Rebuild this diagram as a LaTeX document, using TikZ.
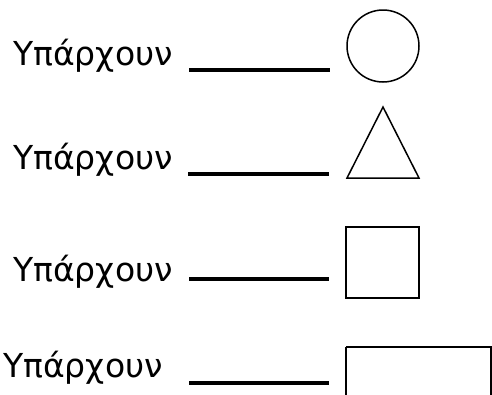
\documentclass[tikz,border=0pt]{standalone}
\usepackage{fontspec}
\setmainfont{DejaVu Sans}
\begin{document}
\begin{tikzpicture}[x=1pt,y=-1pt,
  lbl/.style={anchor=base west,inner sep=0pt,font=\fontsize{33}{38}\selectfont},
  blank/.style={line width=3.5pt},
  shp/.style={line width=1.5pt}]
\useasboundingbox (0,0) rectangle (492,394);
\node[lbl] (t1) at (13,65) {Υπάρχουν};
\node[lbl] (t2) at (13,169) {Υπάρχουν};
\node[lbl] (t3) at (13,281) {Υπάρχουν};
\node[lbl] (t4) at (3,377) {Υπάρχουν};
\draw[blank] (189,70) -- (330,70);
\draw[blank] (188,174) -- (329,174);
\draw[blank] (189,279) -- (329,279);
\draw[blank] (189,383) -- (329,383);
\draw[shp] (383,46) circle (36);
\draw[shp] (383,107) -- (419,178) -- (347,178) -- cycle;
\draw[shp] (346,227) rectangle (419,298);
\draw[shp] (346,347) -- (346,400) (346,347) -- (491,347) -- (491,400);
\end{tikzpicture}
\end{document}
